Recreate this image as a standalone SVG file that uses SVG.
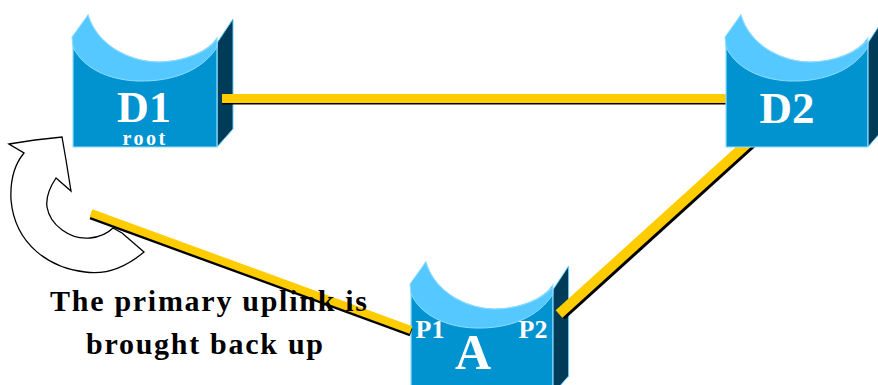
<svg xmlns="http://www.w3.org/2000/svg" xmlns:xlink="http://www.w3.org/1999/xlink" width="878" height="385" viewBox="0 0 878 385">
<style>
text{font-family:"Liberation Serif","Times New Roman",serif;font-weight:bold}
.w{fill:#fff;text-anchor:middle}
.cap{fill:#000;font-size:30px}
.y{stroke:#fc0;fill:none}
.k{stroke:#000;fill:none}
</style>
<defs>
<g id="sw">
<path d="M144,43 L160,19 L160,129 L144,147 Z" fill="#003c58" stroke="#66ccff" stroke-width="1"/>
<path d="M0,43 L15,15 C25,48 60,62 85,62 C110,62 135,52 144,38 L144,147 L0,147 Z" fill="#0093d0" stroke="#8fdcff" stroke-width="1.2"/>
<path d="M-1,37 L15,15 C25,48 60,62 85,62 C110,62 135,52 144,40 L144,47 C130,70 100,82 65,81 C35,80 10,68 0,47 Z" fill="#55c8ff" stroke="#8fdcff" stroke-width="1"/>
</g>
</defs>
<g id="node-d1">
<use xlink:href="#sw" href="#sw" x="73"/>
<text class="w" x="144" y="122" font-size="44">D1</text>
<text class="w" x="145" y="145" font-size="20" letter-spacing="2.500">root</text>
</g>
<g id="node-a">
<use xlink:href="#sw" href="#sw" transform="translate(411 247) scale(.985 1)"/>
<text class="w" x="430" y="338" font-size="26">P1</text>
<text class="w" x="533" y="338" font-size="26">P2</text>
<text class="w" x="473" y="369" font-size="50">A</text>
</g>
<g id="arrow">
<path d="M9,144 L35,140 L62,137 L66,160 L71,191 L56,178 C48,190 46,200 47,207 C50,225 70,240 90,238 C100,237 108,233 113,228 L122,233 L144,252 C125,268 105,275 85,272 C50,268 15,245 11,200 C10,180 14,165 24,153 Z" fill="#fff" stroke="#000" stroke-width="1.300"/>
</g>
<g id="connectors">
<path class="k" stroke-width="9" d="M222,100H726"/>
<path class="y" stroke-width="9" d="M222,98.500H726"/>
<path class="k" stroke-width="8" d="M91,215.500 L411,332.500"/>
<path class="y" stroke-width="8" d="M91,213 L411,330"/>
<path class="k" stroke-width="9" d="M562,316 L753,143"/>
<path class="y" stroke-width="10" d="M559,314 L750,141"/>
</g>
<g id="node-d2">
<use xlink:href="#sw" href="#sw" transform="translate(726 0) scale(.985 1)"/>
<text class="w" x="787" y="123" font-size="45">D2</text>
</g>
<g id="caption">
<text class="cap" x="50" y="311" textLength="317" lengthAdjust="spacing">The primary uplink is</text>
<text class="cap" x="86" y="354" textLength="237" lengthAdjust="spacing">brought back up</text>
</g>
</svg>
